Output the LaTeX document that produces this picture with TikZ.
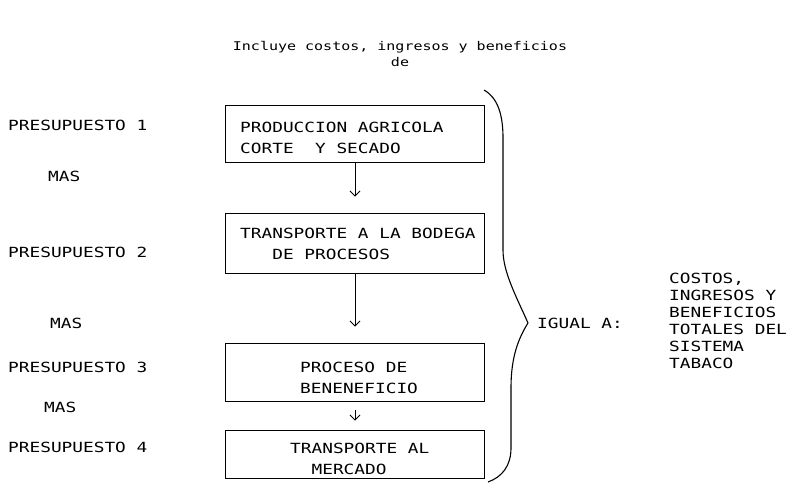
\documentclass[tikz,border=0pt]{standalone}
\usepackage{fontspec}
\newfontfamily\dm[FakeStretch=1.27]{DejaVu Sans Mono}
\newfontfamily\dmt[FakeStretch=1.25]{DejaVu Sans Mono}
\usetikzlibrary{arrows.meta}
\begin{document}
\begin{tikzpicture}[x=1pt,y=-1pt,
  lbl/.style={font=\dm\fontsize{14}{17}\selectfont, inner sep=0pt, anchor=base west},
  ttl/.style={font=\dmt\fontsize{12}{16}\selectfont, inner sep=0pt, anchor=base},
  box/.style={draw, line width=0.9pt, inner sep=0pt, minimum width=259pt},
  btxt/.style={font=\dm\fontsize{14}{20.5}\selectfont, inner sep=0pt, anchor=north west, align=left},
  rtxt/.style={font=\dm\fontsize{14}{17}\selectfont, inner sep=0pt, anchor=north west, align=left},
  arr/.style={line width=0.9pt, -{Straight Barb[length=5pt,width=10pt]}},
  bracestyle/.style={line width=1.1pt, line join=round}]
\useasboundingbox (0,0) rectangle (803,486);

% title
\node[ttl] (t1) at (400,51) {Incluye costos, ingresos y beneficios};
\node[ttl] (t2) at (400,67) {de};

% left labels
\node[lbl] (p1) at (8,131) {PRESUPUESTO 1};
\node[lbl] (m1) at (48,182) {MAS};
\node[lbl] (p2) at (8,258) {PRESUPUESTO 2};
\node[lbl] (m2) at (50,328) {MAS};
\node[lbl] (p3) at (8,372) {PRESUPUESTO 3};
\node[lbl] (m3) at (44,412) {MAS};
\node[lbl] (p4) at (8,452) {PRESUPUESTO 4};

% boxes
\node[box, minimum height=57pt] (b1) at (355,133.5) {};
\node[box, minimum height=60pt] (b2) at (355,243) {};
\node[box, minimum height=58pt] (b3) at (355,372) {};
\node[box, minimum height=48pt] (b4) at (355,454) {};

\node[btxt] (b1t) at (240,122) {PRODUCCION AGRICOLA\\CORTE\ \ Y SECADO};
\node[btxt] (b2t) at (240,228) {TRANSPORTE A LA BODEGA\\\phantom{XXX}DE PROCESOS};
\node[btxt] (b3t) at (300,362) {PROCESO DE\\BENENEFICIO};
\node[btxt] (b4t) at (290,443) {TRANSPORTE AL\\\phantom{XX}MERCADO};

% arrows
\draw[arr, shorten >=16pt] (b1.south) -- (b2.north);
\draw[arr, shorten >=16pt] (b2.south) -- (b3.north);
\draw[arr, shorten <=9pt, shorten >=9pt] (b3.south) -- (b4.north);

% brace
\coordinate (btop) at (484,90);
\coordinate (tip) at (528,323);
\coordinate (bbot) at (488,482);
\draw[bracestyle] (btop) .. controls (498,98) and (503,115) .. (503,138)
  -- (503,250) .. controls (503,272) and (516,296) .. (tip)
  .. controls (516,342) and (511,362) .. (511,388)
  -- (511,448) .. controls (511,466) and (502,477) .. (bbot);

\node[lbl] (ig) at (537,328) {IGUAL A:};
\node[rtxt] (res) at (669,273) {COSTOS,\\INGRESOS Y\\BENEFICIOS\\TOTALES DEL\\SISTEMA\\TABACO};
\end{tikzpicture}
\end{document}
